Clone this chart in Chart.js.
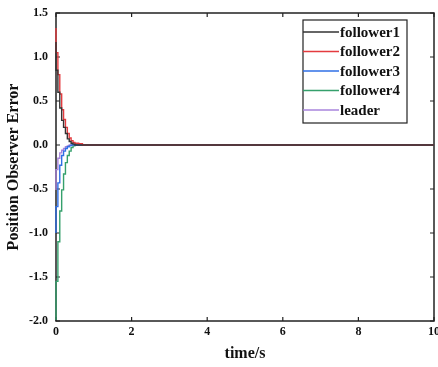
<!DOCTYPE html>
<html>
<head>
<meta charset="utf-8">
<script src="https://cdn.jsdelivr.net/npm/chart.js@4/dist/chart.umd.min.js"></script>
<style>
  html, body { margin: 0; padding: 0; background: #fff; }
  #wrap { width: 438px; height: 367px; }
</style>
</head>
<body>
<div id="wrap"><canvas id="chart" width="438" height="367"></canvas></div>
<script>
// sample times (s) and observer errors
const times = [0, 0.05, 0.1, 0.15, 0.2, 0.25, 0.3, 0.35, 0.4, 0.45, 0.5, 0.55, 0.6, 0.7, 0.75, 10];
const follower1 = [1.17, 0.85, 0.6, 0.42, 0.28, 0.2, 0.13, 0.07, 0.04, 0.02, 0.01, 0, 0, 0, 0, 0];
const follower2 = [1.33, 1.05, 0.8, 0.58, 0.4, 0.29, 0.2, 0.13, 0.08, 0.05, 0.03, 0.02, 0.02, 0.015, 0, 0];
const follower3 = [-1.0, -0.7, -0.43, -0.23, -0.12, -0.07, -0.04, -0.02, -0.01, 0, 0, 0, 0, 0, 0, 0];
const follower4 = [-1.99, -1.55, -1.1, -0.75, -0.51, -0.33, -0.2, -0.12, -0.07, -0.03, -0.01, 0, 0, 0, 0, 0];
const leader = [-0.51, -0.28, -0.15, -0.09, -0.06, -0.04, -0.02, -0.01, 0, 0, 0, 0, 0, 0, 0, 0];

const seriesNames = ["follower1", "follower2", "follower3", "follower4", "leader"];
const seriesData = [follower1, follower2, follower3, follower4, leader];
const seriesColors = ["#333333", "#e43b3f", "#2f6fe6", "#35a06c", "#a884dc"];

const xTicks = [0, 2, 4, 6, 8, 10];
const yTicks = [-2.0, -1.5, -1.0, -0.5, 0.0, 0.5, 1.0, 1.5];

const serif = "'Liberation Serif', 'Times New Roman', serif";

function toPoints(values) {
  return values.map((v, i) => ({ x: times[i], y: v }));
}

// frame and inward ticks drawn under the curves, boxed legend on top
const framePlugin = {
  id: "frame",
  beforeDatasetsDraw(chart) {
    const { ctx, chartArea: a, scales } = chart;
    ctx.save();
    ctx.strokeStyle = "#222";
    ctx.lineWidth = 1.5;
    ctx.strokeRect(a.left, a.top, a.right - a.left, a.bottom - a.top);
    ctx.lineWidth = 1.2;
    ctx.beginPath();
    xTicks.forEach(t => {
      const px = scales.x.getPixelForValue(t);
      ctx.moveTo(px, a.bottom); ctx.lineTo(px, a.bottom - 4);
      ctx.moveTo(px, a.top); ctx.lineTo(px, a.top + 4);
    });
    yTicks.forEach(t => {
      const py = scales.y.getPixelForValue(t);
      ctx.moveTo(a.left, py); ctx.lineTo(a.left + 4, py);
      ctx.moveTo(a.right, py); ctx.lineTo(a.right - 4, py);
    });
    ctx.stroke();
    ctx.restore();
  },
  afterDraw(chart) {
    const { ctx } = chart;
    ctx.save();
    const bx = 303, by = 20, bw = 104, bh = 103;
    ctx.fillStyle = "#fff";
    ctx.fillRect(bx, by, bw, bh);
    ctx.strokeStyle = "#222";
    ctx.lineWidth = 1.2;
    ctx.strokeRect(bx, by, bw, bh);
    ctx.font = "bold 15px " + serif;
    ctx.textBaseline = "middle";
    seriesNames.forEach((name, i) => {
      const y = by + 12 + i * 19.5;
      ctx.strokeStyle = seriesColors[i];
      ctx.lineWidth = 1.3;
      ctx.beginPath();
      ctx.moveTo(bx, y); ctx.lineTo(bx + 36, y);
      ctx.stroke();
      ctx.fillStyle = "#111";
      ctx.fillText(name, bx + 37, y + 1);
    });
    ctx.restore();
  }
};

new Chart(document.getElementById("chart"), {
  type: "line",
  data: {
    datasets: seriesNames.map((name, i) => ({
      label: name,
      data: toPoints(seriesData[i]),
      borderColor: seriesColors[i],
      backgroundColor: seriesColors[i],
      borderWidth: 1.4,
      pointRadius: 0,
      stepped: "after",
      clip: 2,
      fill: false
    }))
  },
  options: {
    responsive: false,
    animation: false,
    layout: { padding: { top: 13, right: 4, left: 0, bottom: 0 } },
    plugins: { legend: { display: false }, tooltip: { enabled: false } },
    scales: {
      x: {
        type: "linear",
        min: 0, max: 10,
        grid: { display: false, drawTicks: false },
        border: { display: false },
        afterBuildTicks: s => { s.ticks = xTicks.map(v => ({ value: v })); },
        afterFit: s => { s.height = 46; s.paddingLeft = 0; s.paddingRight = 0; },
        ticks: {
          color: "#111", padding: 4,
          font: { family: serif, weight: "bold", size: 12 },
          callback: v => String(v)
        },
        title: {
          display: true, text: "time/s", color: "#111",
          font: { family: serif, weight: "bold", size: 16 },
          padding: { top: 4 }
        }
      },
      y: {
        min: -2, max: 1.5,
        grid: { display: false, drawTicks: false },
        border: { display: false },
        afterBuildTicks: s => { s.ticks = yTicks.map(v => ({ value: v })); },
        afterFit: s => { s.width = 56; s.paddingTop = 0; s.paddingBottom = 0; },
        ticks: {
          color: "#111", padding: 8,
          font: { family: serif, weight: "bold", size: 12 },
          callback: v => Number(v).toFixed(1)
        },
        title: {
          display: true, text: "Position Observer Error", color: "#111",
          font: { family: serif, weight: "bold", size: 16 },
          padding: { bottom: 2 }
        }
      }
    }
  },
  plugins: [framePlugin]
});
</script>
</body>
</html>
